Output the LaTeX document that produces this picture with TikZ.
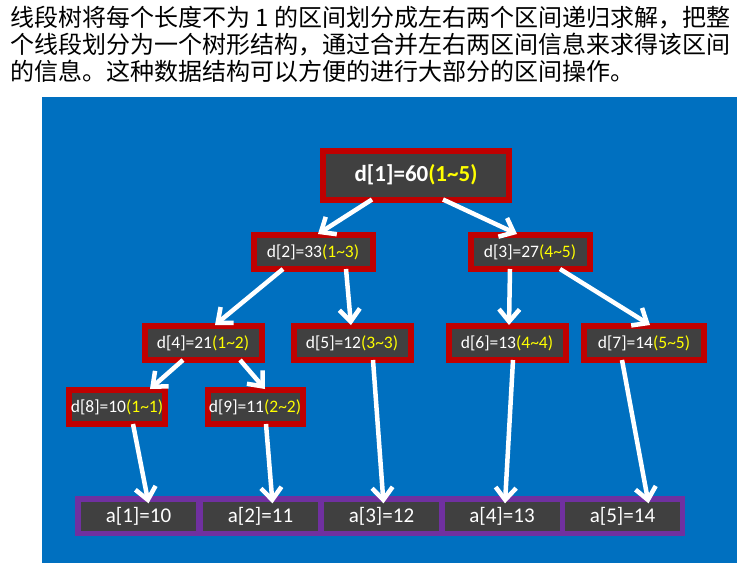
\documentclass[tikz,border=0pt]{standalone}
\usepackage{fontspec}
\setmainfont{Carlito}
\newfontfamily\cjk{Noto Sans CJK SC}
\usetikzlibrary{arrows.meta}
\definecolor{bg}{HTML}{0070C0}
\definecolor{rd}{HTML}{C00000}
\definecolor{dk}{HTML}{404040}
\definecolor{yl}{HTML}{FFFF00}
\definecolor{pu}{HTML}{7030A0}
\tikzset{
 dnode/.style={draw=rd,line width=6pt,fill=dk,text=white,minimum width=#1,minimum height=34pt,inner sep=0pt,font=\fontsize{17.5}{19}\selectfont},
 cell/.style={fill=dk,text=white,minimum width=115pt,minimum height=29pt,inner sep=0pt,font=\fontsize{21}{23}\selectfont},
 arr/.style={draw=white,line width=4.5pt,-{Straight Barb[angle=80:16pt,line width=4.5pt]}},
}
\newcommand{\rg}[1]{\textcolor{yl}{#1}}
\begin{document}
\begin{tikzpicture}[x=1pt,y=-1pt]
\useasboundingbox (0,0) rectangle (752,576);
\fill[white] (0,0) rectangle (752,576);
\node[anchor=north west,align=left,inner sep=0pt,font=\cjk\fontsize{24}{27}\selectfont] (txt) at (10,6)
 {线段树将每个长度不为 1 的区间划分成左右两个区间递归求解，把整\\个线段划分为一个树形结构，通过合并左右两区间信息来求得该区间\\的信息。这种数据结构可以方便的进行大部分的区间操作。};
\fill[bg] (42,97) rectangle (737,563);
\node[dnode=186pt,minimum height=49pt,font=\fontsize{23}{25}\selectfont\bfseries] (d1) at (416,175) {d[1]=60\rg{(1\textasciitilde5)}};
\node[dnode=119pt] (d2) at (313,252) {d[2]=33\rg{(1\textasciitilde3)}};
\node[dnode=119pt] (d3) at (530,252) {d[3]=27\rg{(4\textasciitilde5)}};
\node[dnode=117pt] (d4) at (203,343) {d[4]=21\rg{(1\textasciitilde2)}};
\node[dnode=117pt] (d5) at (352,343) {d[5]=12\rg{(3\textasciitilde3)}};
\node[dnode=117pt] (d6) at (507,343) {d[6]=13\rg{(4\textasciitilde4)}};
\node[dnode=120pt] (d7) at (644,343) {d[7]=14\rg{(5\textasciitilde5)}};
\node[dnode=96pt] (d8) at (117,407) {d[8]=10\rg{(1\textasciitilde1)}};
\node[dnode=95pt] (d9) at (255,407) {d[9]=11\rg{(2\textasciitilde2)}};
\fill[pu] (75,496) rectangle (685,536);
\node[cell] (a1) at (138.5,516) {a[1]=10};
\node[cell] (a2) at (260.5,516) {a[2]=11};
\node[cell] (a3) at (381.5,516) {a[3]=12};
\node[cell] (a4) at (502,516) {a[4]=13};
\node[cell] (a5) at (622.5,516) {a[5]=14};
\draw[arr] ([xshift=-44pt,yshift=3pt]d1.south) -- ([xshift=5pt,yshift=-2pt]d2.north);
\draw[arr] ([xshift=27pt,yshift=3pt]d1.south) -- ([xshift=-13pt,yshift=-2pt]d3.north);
\draw[arr] ([xshift=-30pt,yshift=3pt]d2.south) -- ([xshift=12pt,yshift=-2pt]d4.north);
\draw[arr] ([xshift=33pt,yshift=3pt]d2.south) -- ([xshift=-1pt,yshift=-2pt]d5.north);
\draw[arr] ([xshift=-20pt,yshift=3pt]d3.south) -- ([xshift=2pt,yshift=-2pt]d6.north);
\draw[arr] ([xshift=30pt,yshift=3pt]d3.south) -- ([xshift=6pt,yshift=-2pt]d7.north);
\draw[arr] ([xshift=-20pt,yshift=3pt]d4.south) -- ([xshift=33pt,yshift=-2pt]d8.north);
\draw[arr] ([xshift=37pt,yshift=3pt]d4.south) -- ([xshift=10pt,yshift=-2pt]d9.north);
\draw[arr] ([xshift=16pt,yshift=3pt]d8.south) -- ([xshift=10pt,yshift=-2pt]a1.north);
\draw[arr] ([xshift=11pt,yshift=3pt]d9.south) -- ([xshift=12pt,yshift=-2pt]a2.north);
\draw[arr] ([xshift=21pt,yshift=3pt]d5.south) -- ([xshift=2pt,yshift=-2pt]a3.north);
\draw[arr] ([xshift=6pt,yshift=3pt]d6.south) -- ([xshift=3pt,yshift=-2pt]a4.north);
\draw[arr] ([xshift=-22pt,yshift=3pt]d7.south) -- ([xshift=26pt,yshift=-2pt]a5.north);
\end{tikzpicture}
\end{document}
